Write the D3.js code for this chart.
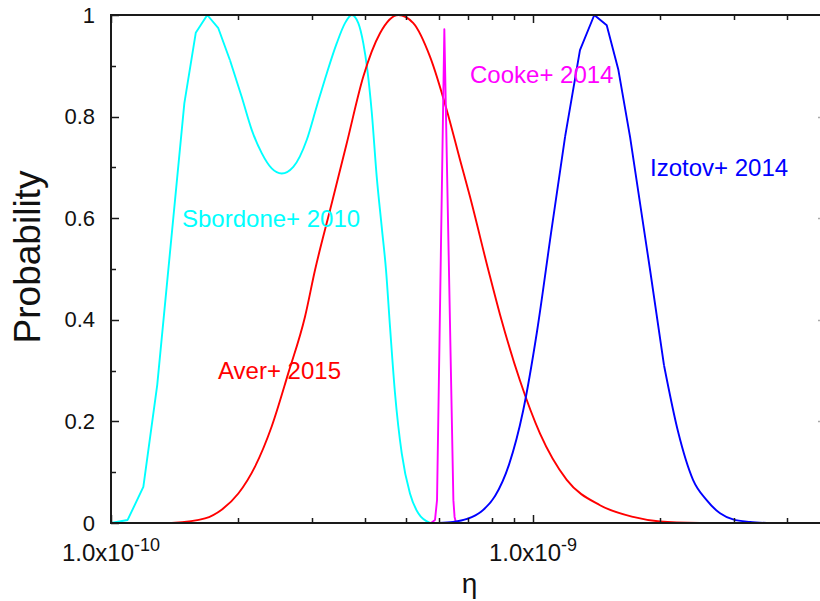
<!DOCTYPE html>
<html>
<head>
<meta charset="utf-8">
<script src="https://cdn.jsdelivr.net/npm/d3@7/dist/d3.min.js"></script>
<style>
  html, body { margin: 0; padding: 0; background: #fff; }
  svg { display: block; }
  text { font-family: "Liberation Sans", Arial, Helvetica, sans-serif; }
</style>
</head>
<body>
<svg id="chart" width="820" height="601"></svg>
<script>
// eta values are given in units of 1e-10
const ETA_UNIT = 1e-10;

// Sbordone+ 2010
const sbordoneEta = [1.000, 1.095, 1.193, 1.287, 1.492, 1.588, 1.691, 1.796, 1.914, 2.040,
  2.155, 2.276, 2.403, 2.538, 2.704, 2.909, 3.072, 3.245, 3.426, 3.585, 3.720, 3.855,
  3.962, 4.050, 4.147, 4.262, 4.380, 4.484, 4.583, 4.710, 4.886, 5.110, 5.348, 5.700];
const sbordoneProb = [0.000, 0.006, 0.071, 0.272, 0.826, 0.965, 1.000, 0.974, 0.911, 0.839,
  0.774, 0.728, 0.698, 0.688, 0.701, 0.754, 0.820, 0.885, 0.944, 0.984, 1.000, 0.984,
  0.944, 0.892, 0.810, 0.682, 0.583, 0.498, 0.386, 0.255, 0.137, 0.058, 0.019, 0.000];

// Aver+ 2015
const averEta = [1.393, 1.670, 1.829, 2.003, 2.194, 2.403, 2.631, 2.882, 3.044, 3.304,
  3.618, 3.962, 4.339, 4.796, 5.204, 5.700, 6.245, 6.714, 7.091, 7.836, 8.353, 9.316,
  10.39, 12.02, 14.41, 17.26, 20.00, 24.87];
const averProb = [0.000, 0.009, 0.026, 0.058, 0.111, 0.190, 0.295, 0.406, 0.498, 0.616,
  0.747, 0.879, 0.964, 1.000, 0.984, 0.918, 0.813, 0.715, 0.642, 0.498, 0.410, 0.280,
  0.176, 0.085, 0.035, 0.012, 0.003, 0.000];

// Cooke+ 2014
const cookeEta = [5.732, 5.858, 5.923, 6.164, 6.476, 6.518, 6.571];
const cookeProb = [0.000, 0.006, 0.045, 0.972, 0.045, 0.012, 0.000];

// Izotov+ 2014
const izotovEta = [5.988, 6.464, 6.977, 7.530, 8.128, 8.772, 9.469, 10.22, 11.03, 11.91,
  12.92, 13.97, 14.95, 15.93, 16.98, 18.94, 20.44, 22.06, 23.94, 25.79, 27.75, 29.78,
  32.68, 35.85];
const izotovProb = [0.000, 0.002, 0.008, 0.022, 0.053, 0.115, 0.220, 0.377, 0.570, 0.760,
  0.931, 1.000, 0.980, 0.892, 0.760, 0.498, 0.310, 0.180, 0.085, 0.045, 0.019, 0.007,
  0.002, 0.000];

const seriesNames = ["Sbordone+ 2010", "Aver+ 2015", "Cooke+ 2014", "Izotov+ 2014"];
const seriesColors = ["#00ffff", "#ff0000", "#ff00ff", "#0000ff"];

// axis ticks
const xMajorTicks = [1e-10, 1e-9];
const xMajorMantissa = ["1.0x10", "1.0x10"];
const xMajorExponent = ["-10", "-9"];
const xMinorTicks = [2e-10, 3e-10, 4e-10, 5e-10, 6e-10, 7e-10, 8e-10, 9e-10, 2e-9, 3e-9, 4e-9];
const yMajorTicks = [0, 0.2, 0.4, 0.6, 0.8, 1];
const yMajorLabels = ["0", "0.2", "0.4", "0.6", "0.8", "1"];
const yMinorTicks = [0.1, 0.3, 0.5, 0.7, 0.9];

const svg = d3.select("#chart");
const plotLeft = 111, plotRight = 828, plotTop = 15, plotBottom = 523;

const x = d3.scaleLog().domain([1e-10, 5e-9]).range([plotLeft, plotRight]);
const y = d3.scaleLinear().domain([0, 1]).range([plotBottom, plotTop]);

const toPoints = (eta, prob) => eta.map((e, k) => [e, prob[k]]);
const lineLinear = d3.line().x(d => x(d[0] * ETA_UNIT)).y(d => y(d[1]));
const lineSmooth = d3.line().x(d => x(d[0] * ETA_UNIT)).y(d => y(d[1])).curve(d3.curveMonotoneX);

function drawPath(d, color) {
  svg.append("path")
    .attr("d", d)
    .attr("fill", "none")
    .attr("stroke", color)
    .attr("stroke-width", 1.9)
    .attr("stroke-linejoin", "round");
}

// Sbordone: coarse sampling on the first peak, smooth afterwards
const sbPts = toPoints(sbordoneEta, sbordoneProb);
drawPath(lineLinear(sbPts.slice(0, 9)), seriesColors[0]);
drawPath(lineSmooth(sbPts.slice(8)), seriesColors[0]);
// Aver: smooth
drawPath(lineSmooth(toPoints(averEta, averProb)), seriesColors[1]);
// Cooke: narrow spike
drawPath(lineLinear(toPoints(cookeEta, cookeProb)), seriesColors[2]);
// Izotov: coarse sampling near the peak
const izPts = toPoints(izotovEta, izotovProb);
drawPath(lineSmooth(izPts.slice(0, 10)), seriesColors[3]);
drawPath(lineLinear(izPts.slice(9, 17)), seriesColors[3]);
drawPath(lineSmooth(izPts.slice(16)), seriesColors[3]);

// frame
const axisColor = "#1a1a1a";
const g = svg.append("g").attr("stroke", axisColor).attr("stroke-width", 2);
g.append("line").attr("x1", plotLeft).attr("x2", plotRight + 5).attr("y1", plotTop).attr("y2", plotTop);
g.append("line").attr("x1", plotLeft).attr("x2", plotRight + 5).attr("y1", plotBottom).attr("y2", plotBottom);
g.append("line").attr("x1", plotLeft).attr("x2", plotLeft).attr("y1", plotTop - 1).attr("y2", plotBottom + 1);

// x ticks (bottom and top, mirrored)
const tk = svg.append("g").attr("stroke", axisColor).attr("stroke-width", 1.5);
xMajorTicks.concat(xMinorTicks).forEach(v => {
  const major = xMajorTicks.includes(v);
  const len = major ? 8 : 5;
  const px = Math.round(x(v)) + 0.5;
  tk.append("line").attr("x1", px).attr("x2", px).attr("y1", plotBottom).attr("y2", plotBottom - len);
  tk.append("line").attr("x1", px).attr("x2", px).attr("y1", plotTop).attr("y2", plotTop + len);
});
// y ticks (left, and inward ticks of the right frame)
yMajorTicks.concat(yMinorTicks).forEach(v => {
  const major = yMajorTicks.includes(v);
  const len = major ? 8 : 5;
  const py = Math.round(y(v)) + 0.5;
  tk.append("line").attr("x1", plotLeft).attr("x2", plotLeft + len).attr("y1", py).attr("y2", py);
  if (major && v > 0 && v < 1) {
    svg.append("line").attr("x1", 818).attr("x2", 830).attr("y1", py).attr("y2", py)
      .attr("stroke", "#aaa").attr("stroke-width", 1.5);
  }
});

// y tick labels
yMajorTicks.forEach((v, i) => {
  svg.append("text")
    .attr("x", 95).attr("y", y(v) + 7.5)
    .attr("text-anchor", "end")
    .attr("font-size", 22)
    .attr("fill", "#111")
    .text(yMajorLabels[i]);
});

// x tick labels with exponent superscripts
xMajorTicks.forEach((v, i) => {
  const t = svg.append("text")
    .attr("x", x(v)).attr("y", 561)
    .attr("text-anchor", "middle")
    .attr("font-size", 24)
    .attr("fill", "#111");
  t.append("tspan").text(xMajorMantissa[i]);
  t.append("tspan").attr("dy", -10).attr("font-size", 18).text(xMajorExponent[i]);
});

// axis titles
svg.append("text")
  .attr("x", (plotLeft + plotRight) / 2).attr("y", 593)
  .attr("text-anchor", "middle")
  .attr("font-size", 28)
  .attr("fill", "#111")
  .text("η");
svg.append("text")
  .attr("transform", "translate(40,257) rotate(-90)")
  .attr("text-anchor", "middle")
  .attr("font-size", 37)
  .attr("fill", "#111")
  .text("Probability");

// series labels
const labelPos = [[182, 227], [218, 379], [470, 83], [650, 176]];
seriesNames.forEach((name, i) => {
  svg.append("text")
    .attr("x", labelPos[i][0]).attr("y", labelPos[i][1])
    .attr("font-size", 24)
    .attr("fill", seriesColors[i])
    .text(name);
});
</script>
</body>
</html>
